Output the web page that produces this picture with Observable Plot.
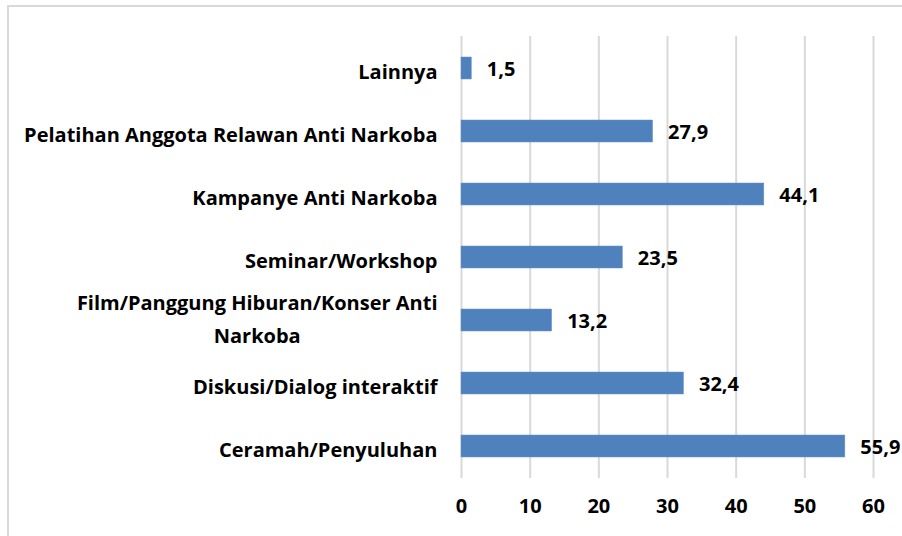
<!DOCTYPE html>
<html>
<head>
<meta charset="utf-8">
<script src="https://cdn.jsdelivr.net/npm/d3@7"></script>
<script src="https://cdn.jsdelivr.net/npm/@observablehq/plot@0.6"></script>
<style>
  html, body { margin: 0; padding: 0; background: #fff; }
  #wrap { position: relative; width: 902px; height: 536px; overflow: hidden; }
  #border { position: absolute; left: 7px; top: 5px; width: 1000px; height: 1000px;
            border-left: 2px solid #d9d9d9; border-top: 2px solid #d9d9d9; box-sizing: border-box; }
  #chart { position: absolute; left: 0; top: 0; }
</style>
</head>
<body>
<div id="wrap"><div id="border"></div><div id="chart"></div></div>
<script>
const categories = [
  "Lainnya",
  "Pelatihan Anggota Relawan Anti Narkoba",
  "Kampanye Anti Narkoba",
  "Seminar/Workshop",
  "Film/Panggung Hiburan/Konser Anti Narkoba",
  "Diskusi/Dialog interaktif",
  "Ceramah/Penyuluhan"
];
const values = [1.5, 27.9, 44.1, 23.5, 13.2, 32.4, 55.9];
const axisLabels = [
  "Lainnya",
  "Pelatihan Anggota Relawan Anti Narkoba",
  "Kampanye Anti Narkoba",
  "Seminar/Workshop",
  "Film/Panggung Hiburan/Konser Anti\nNarkoba",
  "Diskusi/Dialog interaktif",
  "Ceramah/Penyuluhan"
];
const xTicks = [0, 10, 20, 30, 40, 50, 60];

const data = categories.map((c, i) => ({category: c, value: values[i]}));
const fmt = d => d.toFixed(1).replace(".", ",");
const labelOf = c => axisLabels[categories.indexOf(c)];

const FS = 20;
const chart = Plot.plot({
  width: 902,
  height: 536,
  marginLeft: 461,
  marginRight: 29,
  marginTop: 36,
  marginBottom: 58,
  style: {fontFamily: "'Open Sans', sans-serif", fontWeight: "bold", fontSize: FS + "px", color: "#000", background: "transparent"},
  x: {domain: [0, 60]},
  y: {domain: categories, paddingInner: 0.65, paddingOuter: 0.325},
  marks: [
    Plot.gridX(xTicks, {stroke: "#d9d9d9", strokeOpacity: 1, strokeWidth: 2}),
    Plot.barX(data, {x: "value", y: "category", fill: "#4f81bd", stroke: "#6a95cc", strokeWidth: 0.5}),
    Plot.text(data, {x: "value", y: "category", text: d => fmt(d.value), textAnchor: "start", dx: 15, dy: 1, fill: "#000", fontWeight: "bold", fontSize: FS}),
    Plot.axisX({ticks: xTicks, tickSize: 0, tickPadding: 20, label: null, fontSize: FS, fontWeight: "bold"}),
    Plot.axisY({tickSize: 0, tickPadding: 24, label: null, tickFormat: labelOf, lineHeight: 1.65, fontSize: FS, fontWeight: "bold"})
  ]
});
document.getElementById("chart").appendChild(chart);

// center the wrapped label lines relative to each other (as in the original)
chart.querySelectorAll("text").forEach(t => {
  const spans = t.querySelectorAll("tspan");
  if (spans.length > 1) {
    const w = t.getBBox().width;
    t.setAttribute("text-anchor", "middle");
    spans.forEach(s => s.setAttribute("x", -w / 2));
    const tr = t.getAttribute("transform") || "";
    t.setAttribute("transform", tr + " translate(0,-5)");
  }
});
</script>
</body>
</html>
